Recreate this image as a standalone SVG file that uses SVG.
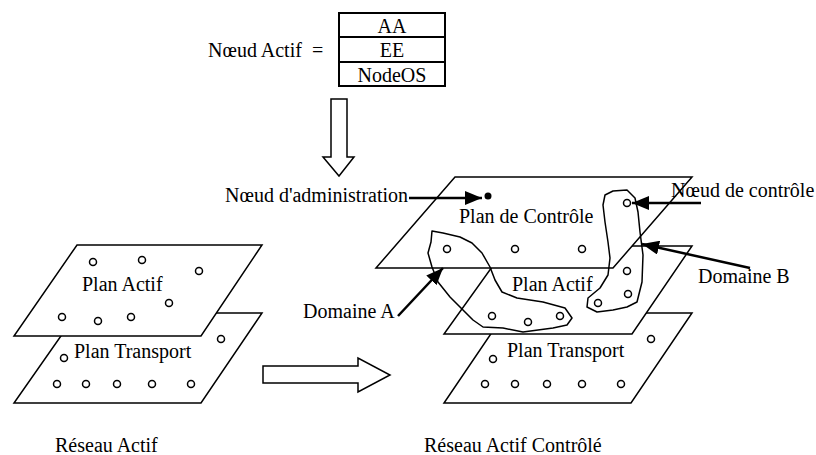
<svg xmlns="http://www.w3.org/2000/svg" width="816" height="455" viewBox="0 0 816 455">
  <style>
    text { font-family: "Liberation Serif", "Times New Roman", serif; font-size: 20px; fill: #000; }
    .plane { fill: #fff; stroke: #000; stroke-width: 1.5; stroke-linejoin: miter; }
    .hollow { fill: #fff; stroke: #000; stroke-width: 1.5; }
    .node { fill: #fff; stroke: #000; stroke-width: 1.5; }
    .dot { fill: #000; }
    .blob { fill: none; stroke: #000; stroke-width: 1.5; stroke-linejoin: round; }
    .box { fill: #fff; stroke: #000; stroke-width: 2; }
    .pointer { stroke: #000; stroke-width: 2.5; fill: none; marker-end: url(#head); }
  </style>
  <defs>
    <marker id="head" markerUnits="userSpaceOnUse" markerWidth="18" markerHeight="14" refX="17" refY="7" orient="auto">
      <path d="M0,0 L17,7 L0,14 z" fill="#000"/>
    </marker>
  </defs>
  <rect width="816" height="455" fill="#fff"/>

  <!-- Active node definition: stacked AA / EE / NodeOS -->
  <g id="noeud-actif">
    <text x="208" y="57">Nœud Actif</text>
    <text x="312" y="57">=</text>
    <rect class="box" x="339" y="13" width="106" height="73"/>
    <line x1="339" y1="37" x2="445" y2="37" stroke="#000" stroke-width="2"/>
    <line x1="339" y1="62" x2="445" y2="62" stroke="#000" stroke-width="2"/>
    <text x="392" y="33" text-anchor="middle">AA</text>
    <text x="392" y="57" text-anchor="middle">EE</text>
    <text x="392" y="82" text-anchor="middle">NodeOS</text>
  </g>

  <!-- Left: active network -->
  <g id="reseau-actif">
    <polygon class="plane" points="77,313 262,313 201,403 14,403"/>
    <g id="plan-transport-gauche">
      <circle class="node" cx="221" cy="339" r="3.5"/>
      <circle class="node" cx="64" cy="358" r="3.5"/>
      <circle class="node" cx="57" cy="384" r="3.5"/>
      <circle class="node" cx="86" cy="384" r="3.5"/>
      <circle class="node" cx="117" cy="384" r="3.5"/>
      <circle class="node" cx="152" cy="384" r="3.5"/>
      <circle class="node" cx="191" cy="384" r="3.5"/>
    </g>
    <polygon class="plane" points="77,245 262,245 201,336 14,336"/>
    <g id="plan-actif-gauche">
      <circle class="node" cx="93" cy="262" r="3.5"/>
      <circle class="node" cx="142" cy="260" r="3.5"/>
      <circle class="node" cx="199" cy="271" r="3.5"/>
      <circle class="node" cx="169" cy="303" r="3.5"/>
      <circle class="node" cx="62" cy="317" r="3.5"/>
      <circle class="node" cx="98" cy="321" r="3.5"/>
      <circle class="node" cx="131" cy="317" r="3.5"/>
    </g>
    <text x="82" y="291">Plan Actif</text>
    <text x="74" y="358">Plan Transport</text>
    <text x="55" y="452">Réseau Actif</text>
  </g>

  <!-- Right: controlled active network -->
  <g id="reseau-actif-controle">
    <polygon class="plane" points="505,313 692,313 631,403 444,403"/>
    <g id="plan-transport-droite">
      <circle class="node" cx="651" cy="339" r="3.5"/>
      <circle class="node" cx="493" cy="359" r="3.5"/>
      <circle class="node" cx="485" cy="384" r="3.5"/>
      <circle class="node" cx="515" cy="384" r="3.5"/>
      <circle class="node" cx="547" cy="384" r="3.5"/>
      <circle class="node" cx="582" cy="384" r="3.5"/>
      <circle class="node" cx="621" cy="384" r="3.5"/>
    </g>
    <polygon class="plane" points="507,246 692,246 632,334 444,334"/>
    <polygon class="plane" points="455,177 692,177 613,268 376,268"/>
    <g id="plan-controle">
      <circle class="dot" cx="488" cy="196" r="3.5"/>
      <circle class="node" cx="447" cy="249" r="3.5"/>
      <circle class="node" cx="515" cy="249" r="3.5"/>
      <circle class="node" cx="582" cy="249" r="3.5"/>
      <circle class="node" cx="627" cy="203" r="3.5"/>
    </g>
    <g id="domaine-a">
      <polygon class="blob" points="432,231 443,233 460,237 472,243 482,253 490,267 495,280 502,292 517,298 543,302 565,308 572,318 567,325 553,328 523,332 503,328 483,327 473,320 463,310 450,297 438,282 432,267 428,253 431,242"/>
      <circle class="node" cx="492" cy="316" r="3.5"/>
      <circle class="node" cx="528" cy="322" r="3.5"/>
      <circle class="node" cx="560" cy="316" r="3.5"/>
    </g>
    <g id="domaine-b">
      <polygon class="blob" points="605,195 613,191 627,190 635,198 638,212 640,232 643,255 642,282 637,302 627,307 613,310 597,312 587,307 588,298 600,288 608,275 610,258 608,242 605,222 603,205"/>
      <circle class="node" cx="627" cy="271" r="3.5"/>
      <circle class="node" cx="628" cy="294" r="3.5"/>
      <circle class="node" cx="598" cy="303" r="3.5"/>
    </g>
    <text x="459" y="223">Plan de Contrôle</text>
    <text x="512" y="291">Plan Actif</text>
    <text x="507" y="357">Plan Transport</text>
    <text x="424" y="452">Réseau Actif Contrôlé</text>
  </g>

  <!-- Labels for the callouts -->
  <g id="labels">
    <text x="225" y="202">Nœud d'administration</text>
    <text x="671" y="197">Nœud de contrôle</text>
    <text x="698" y="283">Domaine B</text>
    <text x="303" y="318">Domaine A</text>
  </g>

  <!-- Connectors: hollow block arrows and callout pointers -->
  <g id="connectors">
    <polygon class="hollow" points="331,99 347,99 347,157 354,157 339,176 323,157 331,157"/>
    <polygon class="hollow" points="263,366 358,366 358,358 390,375 358,392 358,383 263,383"/>
    <line class="pointer" x1="409" y1="198" x2="482" y2="198"/>
    <line class="pointer" x1="701" y1="203" x2="632" y2="203"/>
    <line class="pointer" x1="750" y1="268" x2="642" y2="244"/>
    <line class="pointer" x1="398" y1="316" x2="443" y2="268"/>
  </g>
</svg>
